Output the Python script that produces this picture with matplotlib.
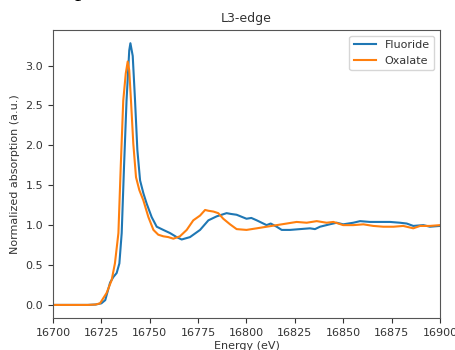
import matplotlib
matplotlib.use("Agg")
import matplotlib.pyplot as plt
import numpy as np

# Energy (eV) and normalized absorption
fluoride_energy = [
    16700, 16710, 16718, 16722, 16725, 16727, 16729.5, 16731.2, 16732.9, 16734.3,
    16735.5, 16736.7, 16738, 16739.4, 16740, 16741.2, 16742.4, 16743.6, 16745,
    16746.7, 16748.4, 16751, 16753.6, 16757, 16760.5, 16763.9, 16766.5, 16770.8,
    16776, 16780.3, 16784.6, 16789.7, 16792, 16794.9, 16800, 16802.5, 16805.3,
    16810.4, 16812.5, 16815.6, 16818.2, 16822.5, 16827.6, 16832.8, 16835.4, 16838,
    16843, 16846.6, 16850, 16855.2, 16858.7, 16863.8, 16869, 16874.2, 16879.3,
    16882.8, 16886.2, 16891.4, 16894.8, 16900,
]
fluoride = [
    0.0, 0.0, 0.0, 0.005, 0.02, 0.06, 0.28, 0.35, 0.40, 0.52,
    0.90, 1.73, 2.56, 3.19, 3.28, 3.12, 2.56, 1.94, 1.56,
    1.40, 1.27, 1.10, 0.98, 0.94, 0.90, 0.85, 0.82, 0.85,
    0.94, 1.06, 1.11, 1.15, 1.14, 1.13, 1.08, 1.09, 1.06,
    1.00, 1.02, 0.98, 0.94, 0.94, 0.95, 0.96, 0.95, 0.98,
    1.01, 1.03, 1.01, 1.03, 1.05, 1.04, 1.04, 1.04, 1.03,
    1.02, 0.99, 1.00, 0.98, 0.99,
]

oxalate_energy = [
    16700, 16710, 16718, 16722, 16724.3, 16727.7, 16730.3, 16732, 16733.8, 16735,
    16736.3, 16737.6, 16738.6, 16739.4, 16740.3, 16741.5, 16742.9, 16744.6,
    16746.7, 16749.3, 16751.9, 16754.4, 16757, 16759.6, 16762.2, 16765.6,
    16769.1, 16772.5, 16776, 16778.6, 16780.3, 16782.9, 16785.4, 16788, 16791.5,
    16794.9, 16800, 16805.3, 16810.4, 16815.6, 16820.8, 16825.9, 16831.1, 16836.3,
    16841.4, 16844.9, 16850, 16855.2, 16860.4, 16865.5, 16870.7, 16876, 16881,
    16886.2, 16889.7, 16894.8, 16900,
]
oxalate = [
    0.0, 0.0, 0.0, 0.005, 0.02, 0.15, 0.31, 0.52, 0.90, 1.73,
    2.56, 2.90, 3.05, 2.94, 2.56, 2.02, 1.60, 1.44,
    1.31, 1.10, 0.94, 0.88, 0.86, 0.85, 0.83, 0.86,
    0.94, 1.06, 1.12, 1.19, 1.18, 1.17, 1.15, 1.08, 1.01,
    0.95, 0.94, 0.96, 0.98, 1.00, 1.02, 1.04, 1.03, 1.05,
    1.03, 1.04, 1.00, 1.00, 1.01, 0.99, 0.98, 0.98, 0.99,
    0.96, 0.99, 0.99, 1.00,
]

fig = plt.figure(figsize=(4.55, 3.5), dpi=100)
ax = fig.add_axes([0.1165, 0.0914, 0.8505, 0.8226])

ax.plot(fluoride_energy, fluoride, color="#1f77b4", linewidth=1.5, label="Fluoride")
ax.plot(oxalate_energy, oxalate, color="#ff7f0e", linewidth=1.5, label="Oxalate")

ax.set_xlim(16700, 16900)
ax.set_xticks(np.arange(16700, 16901, 25))
ax.set_yticks(np.arange(0, 3.01, 0.5))
ax.tick_params(labelsize=8, colors="#333333")
for spine in ax.spines.values():
    spine.set_color("#555555")
ax.set_title("L3-edge", fontsize=9, color="#333333")
ax.set_xlabel("Energy (eV)", fontsize=8, labelpad=2, color="#333333")
ax.set_ylabel("Normalized absorption (a.u.)", fontsize=8, color="#333333")
ax.legend(loc="upper right", fontsize=8, labelcolor="#333333")

# leftover glyph of the surrounding document
fig.text(0.165, 1.012, "p", fontsize=18, family="Liberation Serif", va="baseline")

fig.savefig("out.png", dpi=100)
